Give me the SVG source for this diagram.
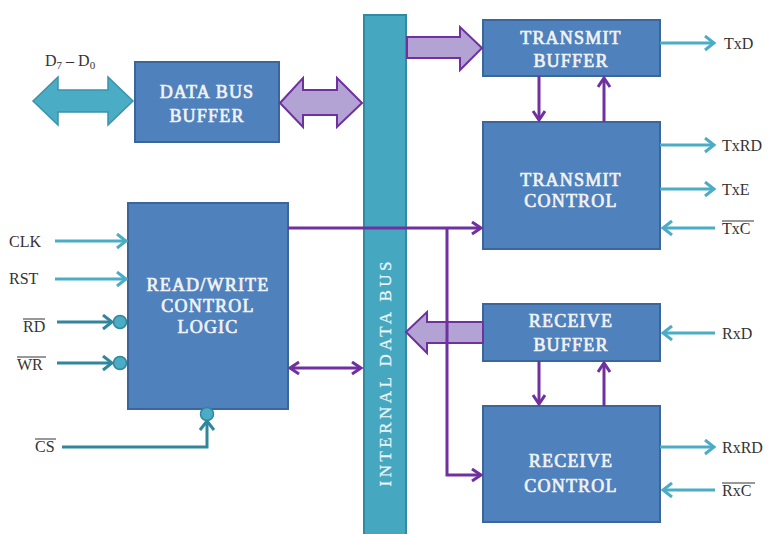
<svg xmlns="http://www.w3.org/2000/svg" width="769" height="534" viewBox="0 0 769 534">
  <style>
    .box { fill: #4f81bd; stroke: #3b669c; stroke-width: 2; }
    .bus { fill: #46a7c1; stroke: #2f8aa2; stroke-width: 2; }
    .btxt { font-family: "Liberation Serif", "Times New Roman", serif; font-size: 18px; letter-spacing: 1.2px; fill: #f2f2f2; stroke: #f2f2f2; stroke-width: 0.7; text-anchor: middle; }
    .lbl { font-family: "Liberation Serif", "Times New Roman", serif; font-size: 16px; fill: #333333; }
    .sig { stroke: #4bacc6; stroke-width: 3; fill: none; }
    .sigd { stroke: #31859c; stroke-width: 3; fill: none; }
    .pl { stroke: #7030a0; stroke-width: 3; fill: none; }
    .fat { fill: #b3a2d4; stroke: #7030a0; stroke-width: 2; stroke-linejoin: miter; }
    .bub { fill: #4bacc6; stroke: #31859c; stroke-width: 1.5; }
    .ovl { stroke: #333333; stroke-width: 1; }
  </style>
  <defs>
    <marker id="hc" markerUnits="userSpaceOnUse" markerWidth="14" markerHeight="18" refX="10" refY="8" orient="auto-start-reverse">
      <path d="M1,1 L10,8 L1,15" fill="none" stroke="#4bacc6" stroke-width="3"/>
    </marker>
    <marker id="hd" markerUnits="userSpaceOnUse" markerWidth="14" markerHeight="18" refX="10" refY="8" orient="auto-start-reverse">
      <path d="M1,1 L10,8 L1,15" fill="none" stroke="#31859c" stroke-width="3"/>
    </marker>
    <marker id="hp" markerUnits="userSpaceOnUse" markerWidth="14" markerHeight="16" refX="10" refY="7" orient="auto-start-reverse">
      <path d="M1,1 L10,7 L1,13" fill="none" stroke="#7030a0" stroke-width="3"/>
    </marker>
  </defs>

  <!-- internal data bus -->
  <g id="internal-bus">
    <rect class="bus" x="364" y="15" width="42" height="530"/>
    <text transform="translate(391,374) rotate(-90)" text-anchor="middle" textLength="225" lengthAdjust="spacing" font-family="Liberation Serif, Times New Roman, serif" font-size="17" fill="#eaf6f9" stroke="#eaf6f9" stroke-width="0.3">INTERNAL DATA BUS</text>
  </g>

  <!-- blocks -->
  <g id="data-bus-buffer">
    <rect class="box" x="135" y="62" width="144" height="80"/>
    <text class="btxt" x="207" y="98">DATA BUS</text>
    <text class="btxt" x="207" y="122">BUFFER</text>
  </g>
  <g id="transmit-buffer">
    <rect class="box" x="483" y="20" width="177" height="56"/>
    <text class="btxt" x="571" y="44">TRANSMIT</text>
    <text class="btxt" x="571" y="67">BUFFER</text>
  </g>
  <g id="transmit-control">
    <rect class="box" x="483" y="122" width="177" height="127"/>
    <text class="btxt" x="571" y="186">TRANSMIT</text>
    <text class="btxt" x="571" y="207">CONTROL</text>
  </g>
  <g id="rw-control-logic">
    <rect class="box" x="128" y="203" width="160" height="206"/>
    <text class="btxt" x="208" y="291">READ/WRITE</text>
    <text class="btxt" x="208" y="312">CONTROL</text>
    <text class="btxt" x="208" y="333">LOGIC</text>
  </g>
  <g id="receive-buffer">
    <rect class="box" x="483" y="304" width="177" height="57"/>
    <text class="btxt" x="571" y="327">RECEIVE</text>
    <text class="btxt" x="571" y="351">BUFFER</text>
  </g>
  <g id="receive-control">
    <rect class="box" x="483" y="406" width="177" height="116"/>
    <text class="btxt" x="571" y="467">RECEIVE</text>
    <text class="btxt" x="571" y="492">CONTROL</text>
  </g>

  <!-- connectors -->
  <g id="connectors">
    <!-- D7-D0 external data bus -->
    <polygon points="33,101 58,77 58,90 108,90 108,77 133,101 108,125 108,112 58,112 58,125" fill="#4bacc6" stroke="#3a93ab" stroke-width="1.5"/>
    <!-- data bus buffer <-> internal bus -->
    <polygon class="fat" points="280,103 303,78 303,90 337,90 337,78 362,103 337,127 337,115 303,115 303,127"/>
    <!-- internal bus -> transmit buffer -->
    <polygon class="fat" points="407,37 460,37 460,27 482,48 460,70 460,58 407,58"/>
    <!-- receive buffer -> internal bus -->
    <polygon class="fat" points="483,322 427,322 427,312 406,332 427,353 427,343 483,343"/>

    <!-- control lines -->
    <line class="pl" x1="288" y1="228" x2="481" y2="228" marker-end="url(#hp)"/>
    <polyline class="pl" points="447,228 447,475 481,475" marker-end="url(#hp)"/>
    <line class="pl" x1="290" y1="368" x2="361" y2="368" marker-start="url(#hp)" marker-end="url(#hp)"/>

    <!-- buffer/control links -->
    <line class="pl" x1="539" y1="76" x2="539" y2="120" marker-end="url(#hp)"/>
    <line class="pl" x1="604" y1="122" x2="604" y2="78" marker-end="url(#hp)"/>
    <line class="pl" x1="539" y1="361" x2="539" y2="404" marker-end="url(#hp)"/>
    <line class="pl" x1="604" y1="406" x2="604" y2="363" marker-end="url(#hp)"/>

    <!-- serial side signals -->
    <line class="sig" x1="660" y1="43" x2="714" y2="43" marker-end="url(#hc)"/>
    <line class="sig" x1="660" y1="145" x2="714" y2="145" marker-end="url(#hc)"/>
    <line class="sig" x1="660" y1="189" x2="714" y2="189" marker-end="url(#hc)"/>
    <line class="sig" x1="715" y1="228" x2="663" y2="228" marker-end="url(#hc)"/>
    <line class="sig" x1="715" y1="333" x2="663" y2="333" marker-end="url(#hc)"/>
    <line class="sig" x1="660" y1="447" x2="714" y2="447" marker-end="url(#hc)"/>
    <line class="sig" x1="715" y1="490" x2="663" y2="490" marker-end="url(#hc)"/>

    <!-- CPU side signals -->
    <line class="sig" x1="55" y1="241" x2="126" y2="241" marker-end="url(#hc)"/>
    <line class="sig" x1="55" y1="279" x2="126" y2="279" marker-end="url(#hc)"/>
    <line class="sigd" x1="57" y1="322" x2="112" y2="322" marker-end="url(#hd)"/>
    <circle class="bub" cx="120" cy="322" r="6.5"/>
    <line class="sigd" x1="57" y1="363" x2="112" y2="363" marker-end="url(#hd)"/>
    <circle class="bub" cx="120" cy="363" r="6.5"/>
    <polyline class="sigd" points="62,447 207,447 207,421" marker-end="url(#hd)"/>
    <circle class="bub" cx="207" cy="414" r="6.5"/>
  </g>

  <!-- pin labels -->
  <g id="labels">
    <text class="lbl" x="45" y="66">D<tspan font-size="11" dy="3">7</tspan><tspan dy="-3"> – D</tspan><tspan font-size="11" dy="3">0</tspan></text>
    <text class="lbl" x="9" y="247">CLK</text>
    <text class="lbl" x="9" y="284">RST</text>
    <text class="lbl" x="23" y="332">RD</text>
    <line class="ovl" x1="23" y1="319" x2="45" y2="319"/>
    <text class="lbl" x="17" y="370">WR</text>
    <line class="ovl" x1="17" y1="357" x2="46" y2="357"/>
    <text class="lbl" x="35" y="452">CS</text>
    <line class="ovl" x1="35" y1="439" x2="56" y2="439"/>

    <text class="lbl" x="724" y="49">TxD</text>
    <text class="lbl" x="722" y="151">TxRD</text>
    <text class="lbl" x="722" y="195">TxE</text>
    <text class="lbl" x="722" y="234">TxC</text>
    <line class="ovl" x1="722" y1="221" x2="754" y2="221"/>
    <text class="lbl" x="722" y="339">RxD</text>
    <text class="lbl" x="722" y="453">RxRD</text>
    <text class="lbl" x="722" y="496">RxC</text>
    <line class="ovl" x1="722" y1="483" x2="755" y2="483"/>
  </g>
</svg>
